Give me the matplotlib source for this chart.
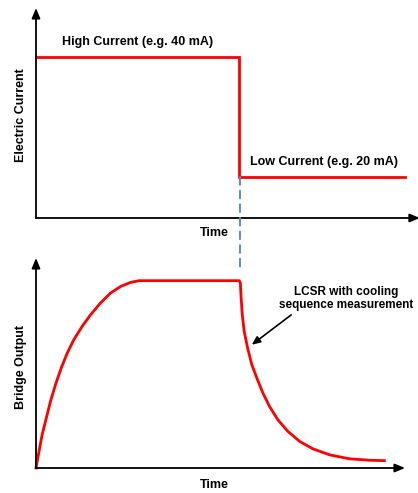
import numpy as np
import matplotlib.pyplot as plt
from matplotlib.patches import ConnectionPatch

plt.rcParams['font.family'] = ['Liberation Sans', 'DejaVu Sans']

# step in current (relative levels, not to scale)
t_step = 5.32
t_end = 9.66
i_high = 0.767
i_low = 0.195

# bridge output
rise_t = [0, 0.08, 0.16, 0.27, 0.38, 0.51, 0.66, 0.82, 0.99, 1.21, 1.43, 1.69, 1.95,
          2.22, 2.48, 2.70, 2.83]
rise_v = [0, 0.080, 0.158, 0.238, 0.318, 0.397, 0.476, 0.548, 0.611, 0.675, 0.730,
          0.786, 0.833, 0.865, 0.884, 0.892, 0.892]
plateau_v = 0.892
decay_t = [5.35, 5.37, 5.40, 5.45, 5.54, 5.65, 5.78, 5.94, 6.11, 6.33, 6.59, 6.90,
           7.24, 7.68, 8.20, 8.72, 9.12]
decay_v = [0.881, 0.810, 0.730, 0.651, 0.571, 0.492, 0.429, 0.357, 0.294, 0.230,
           0.175, 0.127, 0.092, 0.063, 0.044, 0.037, 0.035]

W, H = 418, 493
fig = plt.figure(figsize=(W / 100, H / 100), dpi=100)

ax1 = fig.add_axes([36 / W, 1 - 218 / H, 382 / W, 210 / H])
ax2 = fig.add_axes([36 / W, 1 - 468 / H, 382 / W, 210 / H])

red = '#ff0000'
bold = dict(fontweight='bold', fontsize=9)

for ax in (ax1, ax2):
    ax.set_xlim(0, 10)
    ax.set_ylim(0, 1)
    for s in ax.spines.values():
        s.set_visible(False)
    ax.set_xticks([])
    ax.set_yticks([])
    ax.patch.set_alpha(0)

arrow = dict(arrowstyle='-|>,head_length=0.6,head_width=0.25', color='black', lw=1.3,
             shrinkA=0, shrinkB=0)

# top panel
ax1.annotate('', xy=(0, 1), xytext=(0, 0), arrowprops=arrow, annotation_clip=False)
ax1.annotate('', xy=(10.05, 0), xytext=(0, 0), arrowprops=arrow, annotation_clip=False)
ax1.plot([0, t_step, t_step, t_end], [i_high, i_high, i_low, i_low], color=red, lw=2,
         solid_joinstyle='miter', clip_on=False)
ax1.text(2.67, 0.838, 'High Current (e.g. 40 mA)', ha='center', va='center', **bold)
ax1.text(7.54, 0.267, 'Low Current (e.g. 20 mA)', ha='center', va='center', **bold)
ax1.text(4.68, -0.072, 'Time', ha='center', va='center', **bold)
ax1.text(-0.38, 0.49, 'Electric Current', ha='center', va='center', rotation=90, **bold)

# bottom panel
ax2.annotate('', xy=(0, 1), xytext=(0, 0), arrowprops=arrow, annotation_clip=False)
ax2.annotate('', xy=(t_end, 0), xytext=(0, 0), arrowprops=arrow, annotation_clip=False)
ax2.plot(rise_t + [t_step] + decay_t, rise_v + [plateau_v] + decay_v, color=red, lw=2,
         solid_joinstyle='round', clip_on=False)
ax2.text(4.68, -0.08, 'Time', ha='center', va='center', **bold)
ax2.text(-0.38, 0.48, 'Bridge Output', ha='center', va='center', rotation=90, **bold)
ax2.text(8.13, 0.805, 'LCSR with cooling\nsequence measurement', ha='center', va='center',
         linespacing=1.1, fontweight='bold', fontsize=8.5)
ax2.annotate('', xy=(5.65, 0.587), xytext=(6.68, 0.729),
             arrowprops=dict(arrowstyle='-|>,head_length=0.5,head_width=0.22', color='black',
                             lw=1.2, shrinkA=0, shrinkB=0))

# dashed link between panels
con = ConnectionPatch(xyA=(t_step + 0.02, i_low), coordsA=ax1.transData,
                      xyB=(t_step + 0.02, plateau_v + 0.04), coordsB=ax2.transData,
                      color='#5b8ccc', lw=1.4, linestyle=(0, (4, 3)))
fig.add_artist(con)

fig.savefig('out.png', dpi=100)
